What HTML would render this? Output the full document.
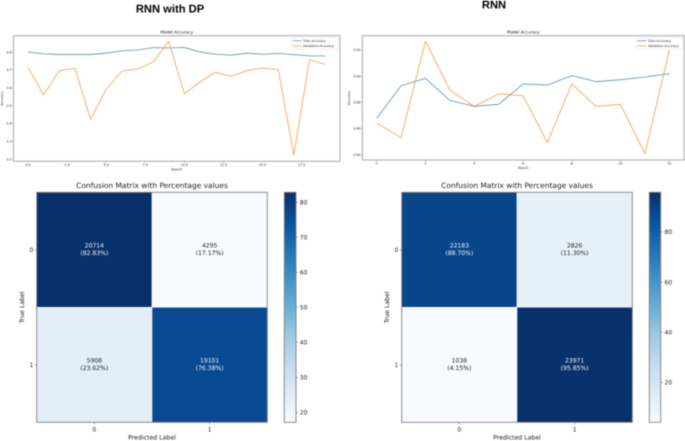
<!DOCTYPE html>
<html>
<head>
<meta charset="utf-8">
<title>RNN with and without DP</title>
<style>
html,body{margin:0;padding:0;background:#fff;}
svg{display:block;position:absolute;left:0;top:0;filter:blur(0.4px);text-rendering:geometricPrecision;}
text{font-family:"DejaVu Sans","Liberation Sans",sans-serif;fill:#222;}
.head{font-family:"Liberation Sans",sans-serif;font-weight:bold;fill:#000;}
</style>
</head>
<body>
<svg id="fig" width="685" height="441" viewBox="0 0 685 441" xmlns="http://www.w3.org/2000/svg">
<text class="head" x="170" y="12.5" font-size="11.2" text-anchor="middle">RNN with DP</text>
<text class="head" x="494" y="8.6" font-size="11.2" text-anchor="middle">RNN</text>
</svg>
<script>
// ---- left accuracy chart data ----
const dpEpochs = [0,1,2,3,4,5,6,7,8,9,10,11,12,13,14,15,16,17,18,19];
const dpTrain = [.802,.791,.788,.788,.788,.795,.808,.813,.826,.825,.827,.802,.789,.784,.795,.789,.794,.787,.780,.780];
const dpVal = [.716,.561,.697,.710,.424,.593,.695,.706,.746,.860,.568,.634,.688,.665,.697,.712,.703,.224,.759,.733];
const dpXTicks = [0,2.5,5,7.5,10,12.5,15,17.5];
const dpXTickLabels = ['0.0','2.5','5.0','7.5','10.0','12.5','15.0','17.5'];
const dpYTicks = [.2,.3,.4,.5,.6,.7,.8];
const dpYTickLabels = ['0.2','0.3','0.4','0.5','0.6','0.7','0.8'];
// ---- right accuracy chart data ----
const rnnEpochs = [0,1,2,3,4,5,6,7,8,9,10,11,12];
const rnnTrain = [.8678,.8927,.8983,.8815,.8769,.8785,.8940,.8932,.9004,.8958,.8973,.8994,.9019];
const rnnVal = [.8642,.8530,.9266,.8894,.8769,.8864,.8851,.8492,.8940,.8769,.8785,.8408,.9200];
const rnnXTicks = [0,2,4,6,8,10,12];
const rnnXTickLabels = ['0','2','4','6','8','10','12'];
const rnnYTicks = [.84,.86,.88,.90,.92];
const rnnYTickLabels = ['0.84','0.86','0.88','0.90','0.92'];
// ---- confusion matrices data ----
const dpCounts = [[20714,4295],[5908,19101]];
const dpPercents = [[82.83,17.17],[23.62,76.38]];
const dpBarTicks = [20,30,40,50,60,70,80];
const rnnCounts = [[22183,2826],[1038,23971]];
const rnnPercents = [[88.70,11.30],[4.15,95.85]];
const rnnBarTicks = [20,40,60,80];
const classLabels = ['0','1'];
const blues = ['#f7fbff','#deebf7','#c6dbef','#9ecae1','#6baed6','#4292c6','#2171b5','#08519c','#08306b'];

const NS = 'http://www.w3.org/2000/svg';
const fig = document.getElementById('fig');
function mk(tag, attrs, parent, txt){
  const n = document.createElementNS(NS, tag);
  for (const k in attrs) n.setAttribute(k, attrs[k]);
  if (txt !== undefined) n.textContent = txt;
  (parent || fig).appendChild(n);
  return n;
}
function linear(d0,d1,r0,r1){ return v => r0 + (v-d0)*(r1-r0)/(d1-d0); }
function bluesColor(t){
  t = Math.max(0,Math.min(1,t))*(blues.length-1);
  const i = Math.min(Math.floor(t),blues.length-2), f = t-i;
  const p = h => [1,3,5].map(j => parseInt(h.substr(j,2),16));
  const a = p(blues[i]), b = p(blues[i+1]);
  return 'rgb('+a.map((c,j)=>Math.round(c+(b[j]-c)*f)).join(',')+')';
}

function lineChart(id, cfg){
  const g = mk('g', {});
  
  
  const xS = cfg.x, yS = cfg.y, b = cfg.box;
  const frame = mk('rect', {x:b.l,y:b.t,width:b.r-b.l,height:b.b-b.t,fill:'#fff',stroke:'#b5b5b5','stroke-width':1.2}, g);
  
  
  const title = mk('text', {x:(b.l+b.r)/2,y:b.t-2,'font-size':4.15,'text-anchor':'middle'}, g, 'Model Accuracy');
  
  
  cfg.xTicks.forEach((v,i)=>{
    const t = mk('line', {x1:xS(v),x2:xS(v),y1:b.b,y2:b.b+1.2,stroke:'#777','stroke-width':.4}, g);
    
    
    const l = mk('text', {x:xS(v),y:b.b+4.6,'font-size':3.2,'text-anchor':'middle',style:'fill:#222'}, g, cfg.xLabels[i]);
    
    
  });
  cfg.yTicks.forEach((v,i)=>{
    const t = mk('line', {x1:b.l-1.2,x2:b.l,y1:yS(v),y2:yS(v),stroke:'#777','stroke-width':.4}, g);
    
    
    const l = mk('text', {x:b.l-1.8,y:yS(v)+1.1,'font-size':3.2,'text-anchor':'end',style:'fill:#222'}, g, cfg.yLabels[i]);
    
    
  });
  const xl = mk('text', {x:(b.l+b.r)/2,y:b.b+9,'font-size':3.4,'text-anchor':'middle',style:'fill:#222'}, g, 'Epoch');
  
  
  const yl = mk('text', {x:0,y:0,'font-size':3.2,'text-anchor':'middle',style:'fill:#222',transform:'translate('+cfg.ylx+' '+((b.t+b.b)/2)+') rotate(-90)'}, g, 'Accuracy');
  
  
  const pts = s => s.map((v,i)=>xS(cfg.epochs[i]).toFixed(2)+','+yS(v).toFixed(2)).join(' ');
  const tr = mk('polyline', {points:pts(cfg.train),fill:'none',stroke:'#1f77b4','stroke-width':.8,'stroke-opacity':.8,'stroke-linejoin':'round'}, g);
  
  
  const va = mk('polyline', {points:pts(cfg.val),fill:'none',stroke:'#ff7f0e','stroke-width':.8,'stroke-opacity':.8,'stroke-linejoin':'round'}, g);
  
  
  const L = cfg.legend;
  const lg = mk('g', {}, g);
  
  
  mk('rect', {x:L.x,y:L.y,width:L.w,height:11.6,fill:'#fff',stroke:'#ddd','stroke-width':.4,rx:.8}, lg);
  mk('line', {x1:L.x+1.5,x2:L.x+10.5,y1:L.y+3.1,y2:L.y+3.1,stroke:'#1f77b4','stroke-width':.75,'stroke-opacity':.8}, lg);
  mk('line', {x1:L.x+1.5,x2:L.x+10.5,y1:L.y+8.3,y2:L.y+8.3,stroke:'#ff7f0e','stroke-width':.75,'stroke-opacity':.8}, lg);
  const l1 = mk('text', {x:L.x+12,y:L.y+4.2,'font-size':3.15,style:'fill:#222'}, lg, 'Train Accuracy');
  
  
  const l2 = mk('text', {x:L.x+12,y:L.y+9.4,'font-size':3.15,style:'fill:#222'}, lg, 'Validation Accuracy');
  
  
}

function confusion(id, cfg){
  const g = mk('g', {});
  
  
  const b = cfg.box, pct = cfg.percents, counts = cfg.counts;
  const all = pct.flat(), lo = Math.min(...all), hi = Math.max(...all);
  const cx = linear(0,2,b.l,b.r), cy = linear(0,2,b.t,b.b);
  const ctitle = mk('text', {x:(b.l+b.r)/2,y:b.t-4.2,'font-size':7.45,'text-anchor':'middle'}, g, 'Confusion Matrix with Percentage values');
  
  
  pct.forEach((row,r)=>row.forEach((v,c)=>{
    const t = (v-lo)/(hi-lo);
    const cell = mk('rect', {x:cx(c),y:cy(r),width:cx(c+1)-cx(c),height:cy(r+1)-cy(r),fill:bluesColor(t),stroke:'#fff','stroke-width':.5}, g);
    
    
    const col = t>.5 ? '#f2f6fb' : '#222';
    const x = (cx(c)+cx(c+1))/2, y = (cy(r)+cy(r+1))/2;
    const n = mk('text', {x:x,y:y-2.5,'font-size':6.05,'text-anchor':'middle',style:'fill:'+col}, g, String(counts[r][c]));
    
    
    const p = mk('text', {x:x,y:y+5.1,'font-size':6.1,'text-anchor':'middle',style:'fill:'+col}, g, '('+v.toFixed(2)+'%)');
    
    
  }));
  const fr = mk('rect', {x:b.l,y:b.t,width:b.r-b.l,height:b.b-b.t,fill:'none',stroke:'#808080','stroke-width':.9}, g);
  
  
  classLabels.forEach((lab,i)=>{
    const xp = cx(i+.5), yp = cy(i+.5);
    const t1 = mk('line', {x1:xp,x2:xp,y1:b.b,y2:b.b+2,stroke:'#555','stroke-width':.5}, g);
    
    
    const t2 = mk('line', {x1:b.l-2,x2:b.l,y1:yp,y2:yp,stroke:'#555','stroke-width':.5}, g);
    
    
    const a = mk('text', {x:xp,y:b.b+9,'font-size':6,'text-anchor':'middle'}, g, lab);
    
    
    const d = mk('text', {x:b.l-3.4,y:yp+2.1,'font-size':6,'text-anchor':'end'}, g, lab);
    
    
  });
  const xt = mk('text', {x:(b.l+b.r)/2,y:b.b+17.4,'font-size':6.2,'text-anchor':'middle'}, g, 'Predicted Label');
  
  
  const yt = mk('text', {x:0,y:0,'font-size':6.2,'text-anchor':'middle',transform:'translate('+(b.l-12.6)+' '+((b.t+b.b)/2)+') rotate(-90)'}, g, 'True Label');
  
  
  // colorbar
  const gid = id+'-grad';
  const grad = mk('linearGradient', {id:gid,x1:0,y1:1,x2:0,y2:0}, g);
  blues.forEach((c,i)=>mk('stop', {offset:i/(blues.length-1),'stop-color':c}, grad));
  const bar = mk('rect', {x:cfg.bar.l,y:b.t,width:cfg.bar.r-cfg.bar.l,height:b.b-b.t,fill:'url(#'+gid+')',stroke:'#808080','stroke-width':.9}, g);
  
  
  const by = linear(lo,hi,b.b,b.t);
  cfg.barTicks.forEach(v=>{
    const t = mk('line', {x1:cfg.bar.r,x2:cfg.bar.r+2,y1:by(v),y2:by(v),stroke:'#555','stroke-width':.5}, g);
    
    
    const l = mk('text', {x:cfg.bar.r+3.8,y:by(v)+2.1,'font-size':6}, g, String(v));
    
    
  });
}

lineChart('rnn-dp', {
  box:{l:13.5,r:340,t:35.7,b:161.3}, ylx:3.2,
  x:linear(0,17.5,28,301.7), y:linear(.2,.8,159.3,52.3),
  epochs:dpEpochs, train:dpTrain, val:dpVal,
  xTicks:dpXTicks, xLabels:dpXTickLabels, yTicks:dpYTicks, yLabels:dpYTickLabels,
  legend:{x:291,y:37.7,w:47.4}
});
lineChart('rnn', {
  box:{l:362.3,r:684.2,t:35.7,b:160}, ylx:350.2,
  x:linear(0,12,376.7,669.3), y:linear(.84,.92,154.7,50),
  epochs:rnnEpochs, train:rnnTrain, val:rnnVal,
  xTicks:rnnXTicks, xLabels:rnnXTickLabels, yTicks:rnnYTicks, yLabels:rnnYTickLabels,
  legend:{x:636,y:37.7,w:47}
});
confusion('rnn-dp', {
  box:{l:36.7,r:267.3,t:192.3,b:422.3}, bar:{l:284.3,r:296},
  counts:dpCounts, percents:dpPercents, barTicks:dpBarTicks
});
confusion('rnn', {
  box:{l:401.7,r:632.3,t:192.3,b:422.3}, bar:{l:649.3,r:660.7},
  counts:rnnCounts, percents:rnnPercents, barTicks:rnnBarTicks
});
</script>
</body>
</html>
